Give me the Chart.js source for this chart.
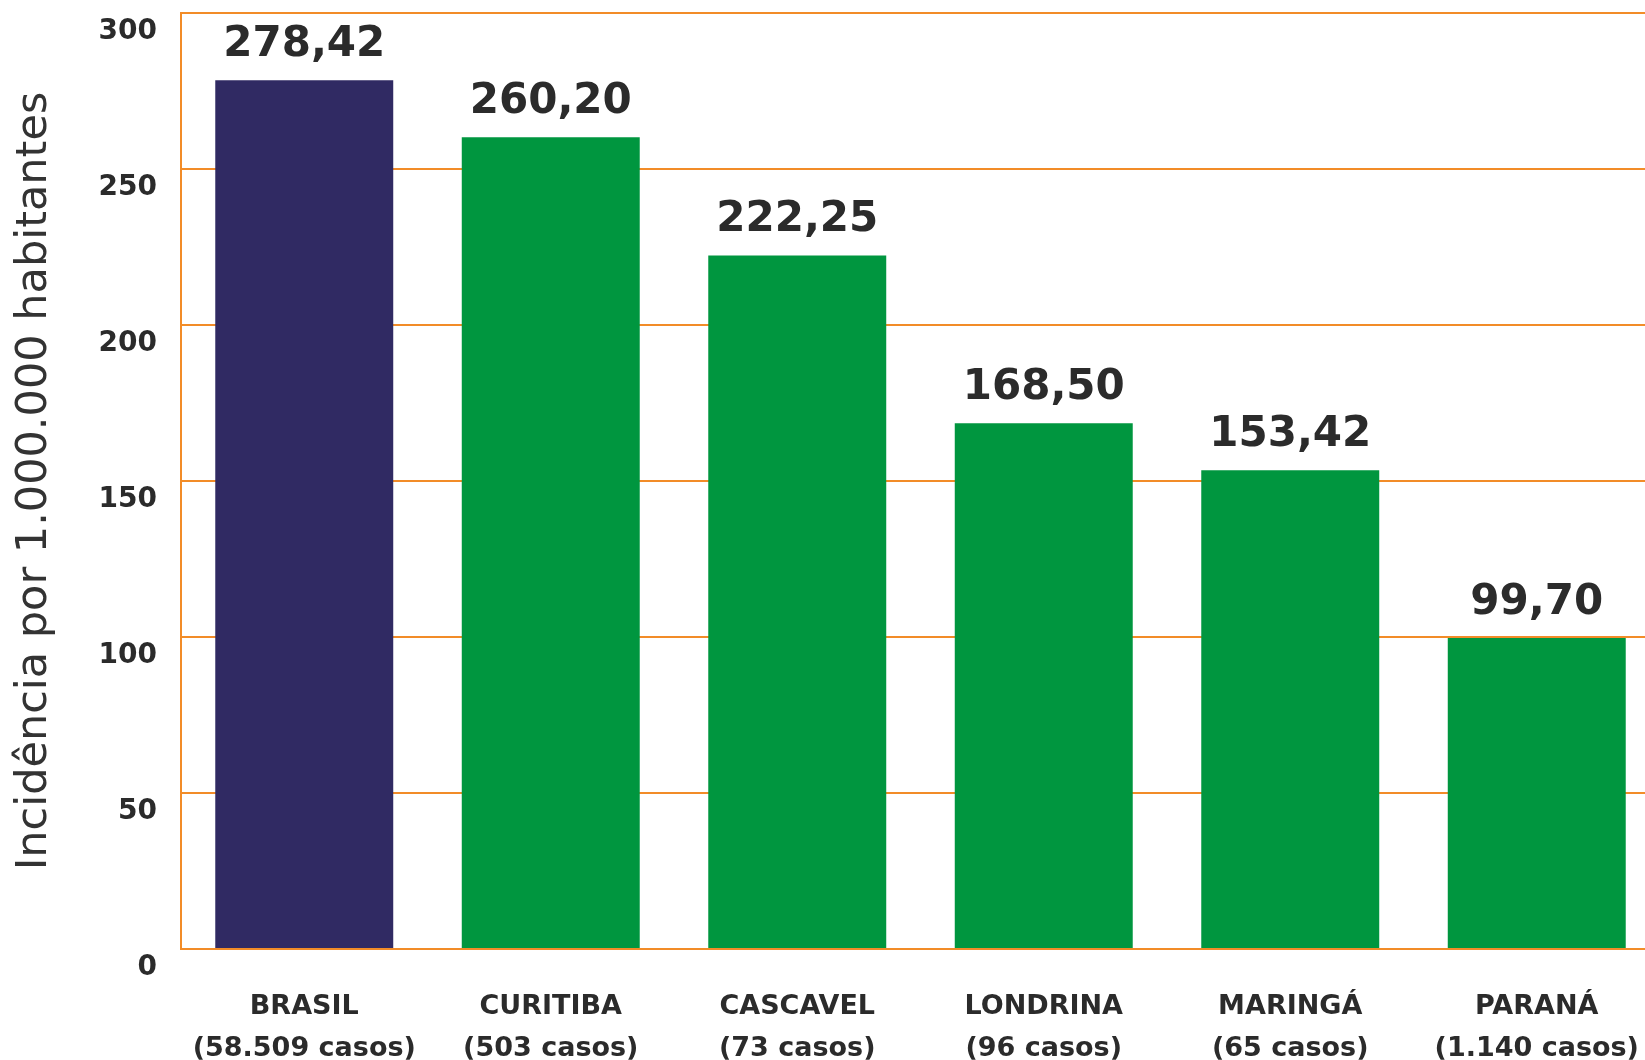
<!DOCTYPE html>
<html lang="pt-BR">
<head>
    <meta charset="UTF-8">
    <title>Incidência por 1.000.000 habitantes</title>
    <script src="https://cdn.jsdelivr.net/npm/chart.js"></script>
    <style>
        html, body { margin: 0; padding: 0; background: #fff; overflow: hidden; }
        #wrap { width: 1660px; height: 1060px; }
    </style>
</head>
<body>
    <div id="wrap">
        <canvas id="incidenciaChart" width="1660" height="1060"></canvas>
    </div>

    <script>
        // Dados
        const locais = ['BRASIL', 'CURITIBA', 'CASCAVEL', 'LONDRINA', 'MARINGÁ', 'PARANÁ'];
        const casos = ['58.509', '503', '73', '96', '65', '1.140'];
        const incidencia = [278.42, 260.20, 222.25, 168.50, 153.42, 99.70];
        const corBarras = ['#302a63', '#00963f', '#00963f', '#00963f', '#00963f', '#00963f'];
        const yTicks = [0, 50, 100, 150, 200, 250, 300];

        const laranja = '#f28c28';
        const texto = '#2b2b2b';

        // rótulos com valor em cima de cada barra
        const valorPlugin = {
            id: 'valores',
            afterDatasetsDraw(chart) {
                const ctx = chart.ctx;
                const meta = chart.getDatasetMeta(0);
                ctx.save();
                ctx.font = 'bold 42px "DejaVu Sans"';
                ctx.fillStyle = texto;
                ctx.textAlign = 'center';
                ctx.textBaseline = 'middle';
                meta.data.forEach((bar, i) => {
                    let txt = incidencia[i].toFixed(2).replace('.', ',');
                    ctx.fillText(txt, bar.x, bar.y - 35);
                });
                ctx.restore();
            }
        };

        let ctx = document.getElementById('incidenciaChart').getContext('2d');
        let incidenciaChart = new Chart(ctx, {
            type: 'bar',
            data: {
                labels: locais.map((l, i) => [l, '(' + casos[i] + ' casos)']),
                datasets: [{
                    data: incidencia,
                    backgroundColor: corBarras,
                    borderWidth: 0,
                    categoryPercentage: 1,
                    barPercentage: 0.722
                }]
            },
            options: {
                responsive: false,
                animation: false,
                layout: { padding: { top: 13, left: 0, right: 0, bottom: 0 } },
                plugins: {
                    legend: { display: false },
                    tooltip: { enabled: false }
                },
                scales: {
                    x: {
                        grid: { display: false },
                        border: { display: false },
                        ticks: {
                            color: texto,
                            padding: 29,
                            maxRotation: 0,
                            autoSkip: false,
                            font: { family: 'DejaVu Sans', weight: 'bold', size: 27, lineHeight: 1.556 }
                        },
                        afterFit: (scale) => {
                            scale.height = 111;
                            scale.paddingLeft = 0;
                            scale.paddingRight = 0;
                        }
                    },
                    y: {
                        min: 0,
                        max: 300,
                        afterBuildTicks: (scale) => { scale.ticks = yTicks.map(v => ({ value: v })); },
                        grid: { color: laranja, lineWidth: 2, drawTicks: false },
                        border: { display: true, color: laranja, width: 2 },
                        ticks: {
                            color: texto,
                            padding: 24,
                            labelOffset: 19,
                            font: { family: 'DejaVu Sans', weight: 'bold', size: 28 }
                        },
                        title: {
                            display: true,
                            text: 'Incidência por 1.000.000 habitantes',
                            color: '#333333',
                            padding: { top: 9, bottom: 0 },
                            font: { family: 'DejaVu Sans', size: 43, lineHeight: 1.2 }
                        },
                        afterFit: (scale) => {
                            scale.width = 181;
                            scale.paddingTop = 0;
                            scale.paddingBottom = 0;
                        }
                    }
                }
            },
            plugins: [valorPlugin]
        });
    </script>
</body>
</html>
